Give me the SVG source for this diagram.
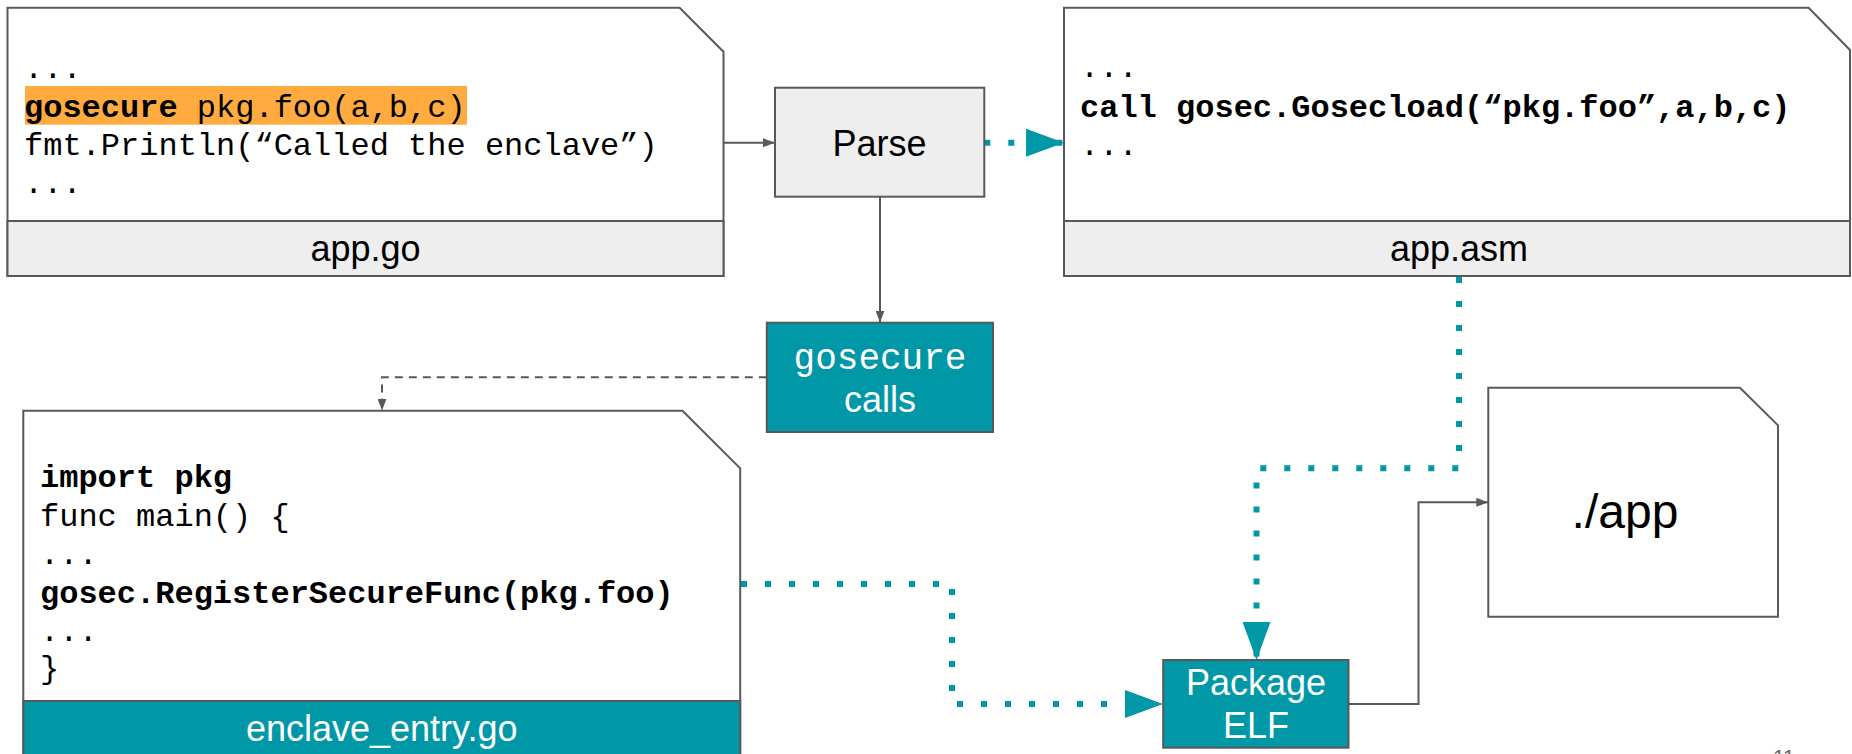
<svg xmlns="http://www.w3.org/2000/svg" width="1852" height="754" viewBox="0 0 1852 754">
  <style>
    .box { stroke: #595959; stroke-width: 2; }
    .page { fill: #ffffff; }
    .grey { fill: #eeeeee; }
    .teal { fill: #0097a7; }
    .code { font-family: "Liberation Mono", "Courier New", monospace; font-size: 32px; fill: #000000; }
    .b { font-weight: bold; }
    .label { font-family: "Liberation Sans", Arial, sans-serif; font-size: 36px; text-anchor: middle; fill: #000000; }
    .white { fill: #ffffff; }
    .link { fill: none; stroke: #595959; stroke-width: 2; }
    .dash { stroke-dasharray: 8 6; }
    .dots { fill: none; stroke: #0097a7; stroke-width: 6; stroke-dasharray: 6 18; }
  </style>
  <defs>
    <marker id="arrowGrey" viewBox="0 0 12 9" refX="12" refY="4.5" markerWidth="12" markerHeight="9" markerUnits="userSpaceOnUse" orient="auto">
      <path d="M0,0 L12,4.5 L0,9 Z" fill="#595959"/>
    </marker>
    <marker id="arrowTeal" viewBox="0 0 38 28" refX="38" refY="14" markerWidth="38" markerHeight="28" markerUnits="userSpaceOnUse" orient="auto">
      <path d="M0,0 L38,14 L0,28 Z" fill="#0097a7"/>
    </marker>
  </defs>

  <rect width="1852" height="754" fill="#ffffff"/>

  <!-- connectors -->
  <g id="connectors">
    <path class="link" d="M723.5,142.7 H775" marker-end="url(#arrowGrey)"/>
    <path class="dots" d="M984.3,142.7 H1064" marker-end="url(#arrowTeal)"/>
    <path class="link" d="M880,197 V322.7" marker-end="url(#arrowGrey)"/>
    <path class="link dash" d="M766.8,377.3 H382 V410.7" marker-end="url(#arrowGrey)"/>
    <path class="dots" d="M741,584 H952 V704 H1163" marker-end="url(#arrowTeal)"/>
    <path class="dots" d="M1459,277 V468.3 H1256.5 V660" marker-end="url(#arrowTeal)"/>
    <path class="link" d="M1348.5,704 H1418.5 V502.3 H1488.3" marker-end="url(#arrowGrey)"/>
  </g>

  <!-- source file app.go -->
  <g id="app-go">
    <path class="box page" d="M7.5,7.7 H679.6 L723.5,51.7 V276 H7.5 Z"/>
    <rect class="box grey" x="7.5" y="221" width="716" height="55"/>
    <rect x="25" y="86" width="442" height="38.7" fill="#ffab40"/>
    <text class="code" x="24" y="78">...</text>
    <text class="code" x="24" y="117"><tspan class="b">gosecure</tspan> pkg.foo(a,b,c)</text>
    <text class="code" x="24" y="155">fmt.Println(“Called the enclave”)</text>
    <text class="code" x="24" y="193">...</text>
    <text class="label" x="365.5" y="261">app.go</text>
  </g>

  <!-- parser step -->
  <g id="parse">
    <rect class="box grey" x="775" y="87.7" width="209.3" height="109"/>
    <text class="label" x="879.6" y="155.5">Parse</text>
  </g>

  <!-- generated assembly app.asm -->
  <g id="app-asm">
    <path class="box page" d="M1064,7.7 H1808.6 L1850,50 V276 H1064 Z"/>
    <rect class="box grey" x="1064" y="221" width="786" height="55"/>
    <text class="code" x="1080" y="77">...</text>
    <text class="code b" x="1080" y="116.7">call gosec.Gosecload(“pkg.foo”,a,b,c)</text>
    <text class="code" x="1080" y="155">...</text>
    <text class="label" x="1459" y="261">app.asm</text>
  </g>

  <!-- extracted gosecure calls -->
  <g id="gosecure-calls">
    <rect class="box teal" x="766.8" y="322.7" width="226.2" height="109.3"/>
    <text class="code white" x="880" y="369" style="font-size:36px" text-anchor="middle">gosecure</text>
    <text class="label white" x="880" y="411.5">calls</text>
  </g>

  <!-- generated enclave entry point -->
  <g id="enclave-entry">
    <path class="box page" d="M23.3,410.7 H682.5 L740.2,468.3 V760 H23.3 Z"/>
    <rect class="box teal" x="23.3" y="701" width="716.9" height="60"/>
    <text class="code b" x="40" y="487">import pkg</text>
    <text class="code" x="40" y="525.5">func main() {</text>
    <text class="code" x="40" y="564">...</text>
    <text class="code b" x="40" y="602.5">gosec.RegisterSecureFunc(pkg.foo)</text>
    <text class="code" x="40" y="641">...</text>
    <text class="code" x="40" y="678">}</text>
    <text class="label white" x="381.7" y="740.5">enclave_entry.go</text>
  </g>

  <!-- packaging step -->
  <g id="package-elf">
    <rect class="box teal" x="1163.2" y="660" width="185.3" height="87.7"/>
    <text class="label white" x="1256" y="695">Package</text>
    <text class="label white" x="1256" y="738">ELF</text>
  </g>

  <!-- output binary -->
  <g id="app-binary">
    <path class="box page" d="M1488.3,387.7 H1740 L1778,425.3 V616.7 H1488.3 Z"/>
    <text class="label" x="1625" y="528" style="font-size:48px">./app</text>
  </g>

  <!-- slide number -->
  <text x="1773" y="764" font-family="Liberation Sans, Arial, sans-serif" font-size="21" fill="#666666">11</text>
</svg>
